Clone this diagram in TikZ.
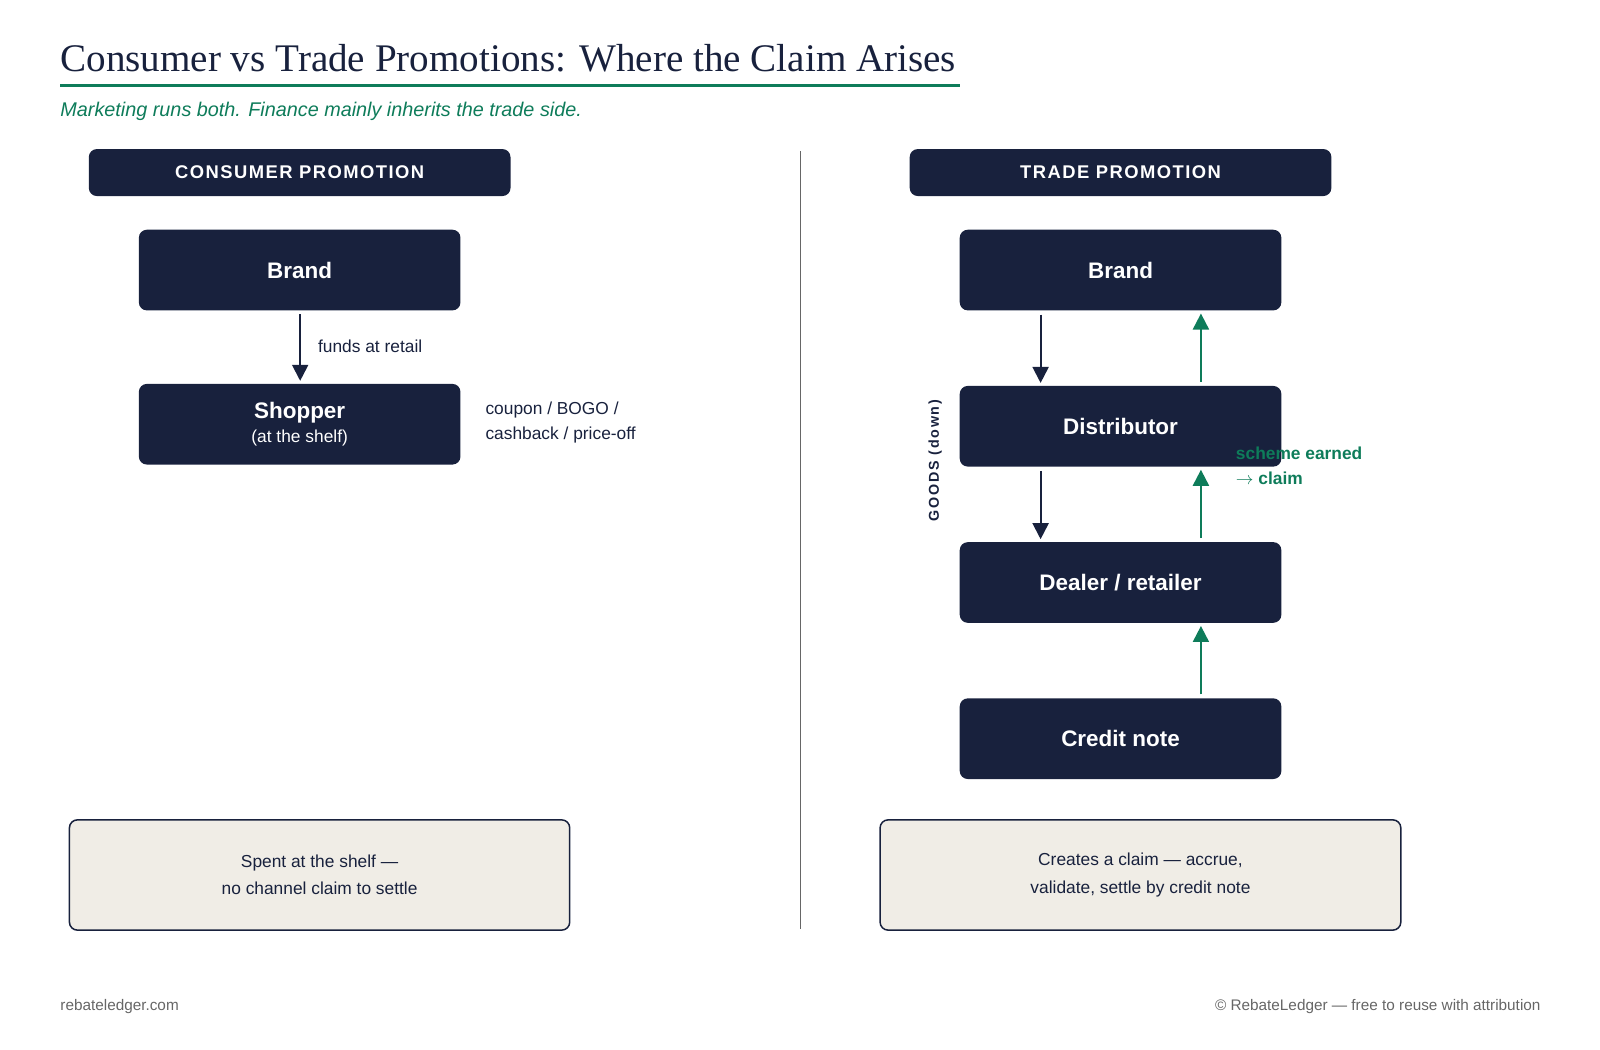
\documentclass[tikz,border=0pt]{standalone}
\usepackage{fontspec}
\setmainfont{Liberation Sans}
\newfontfamily\titlefont{Liberation Serif}
\usetikzlibrary{arrows.meta}
\definecolor{navy}{HTML}{18213D}
\definecolor{grn}{HTML}{0E7C5A}
\definecolor{beige}{HTML}{F0EDE6}
\definecolor{gry}{HTML}{666666}
\begin{document}
\begin{tikzpicture}[x=1pt,y=-1pt,scale=1.021,transform shape,
  box/.style={draw=none,fill=navy,rounded corners=8,text=white,font=\fontsize{22}{26}\selectfont\bfseries,align=center},
  hdr/.style={fill=navy,rounded corners=8,text=white,font=\fontsize{18}{22}\selectfont\bfseries},
  note/.style={draw=navy,line width=1.5,fill=beige,rounded corners=8,text=navy,font=\fontsize{17}{27}\selectfont,align=center},
  small/.style={text=navy,font=\fontsize{17}{25}\selectfont,align=left},
  dn/.style={navy,line width=2,-{Triangle[length=16,width=16]}},
  up/.style={grn,line width=2,-{Triangle[length=16,width=16]}}]
\useasboundingbox (0,0) rectangle (1567.1,1028.4);
\node[anchor=base west,text=navy,font=\titlefont\fontsize{38.3}{42}\selectfont,inner sep=0] (title) at (59,70) {Consumer vs Trade Promotions: Where the Claim Arises};
\draw[grn,line width=3] (59,84) -- (940,84);
\node[anchor=base west,text=grn,font=\fontsize{19.4}{22}\selectfont\itshape,inner sep=0] (sub) at (59,114) {Marketing runs both. Finance mainly inherits the trade side.};
\node[hdr,minimum width=413,minimum height=46] (hl) at (293.5,169) {\addfontfeature{LetterSpace=8}CONSUMER PROMOTION};
\node[hdr,minimum width=413,minimum height=46] (hr) at (1097.5,169) {\addfontfeature{LetterSpace=8}TRADE PROMOTION};
\draw[gry,line width=1] (784,148) -- (784,910);
% left
\node[box,minimum width=315,minimum height=79] (lb) at (293.5,264.5) {Brand};
\node[box,minimum width=315,minimum height=79] (ls) at (293.5,415.5) {Shopper\\[-2pt]{\fontsize{17}{20}\selectfont\mdseries (at the shelf)}};
\draw[dn] (294,308) -- (294,373);
\node[small,anchor=west] (fr) at (308,339) {funds at retail};
\node[small,anchor=west] (cp) at (472,414) {coupon / BOGO /\\cashback / price-off};
% right
\node[box,minimum width=315,minimum height=79] (rb) at (1097.5,264.5) {Brand};
\node[box,minimum width=315,minimum height=79] (rd) at (1097.5,417.5) {Distributor};
\node[box,minimum width=315,minimum height=79] (rr) at (1097.5,570.5) {Dealer / retailer};
\node[box,minimum width=315,minimum height=79] (rc) at (1097.5,723.5) {Credit note};
\coordinate (a1) at (1019,308); \coordinate (a2) at (1019,375);
\coordinate (a3) at (1019,461); \coordinate (a4) at (1019,528);
\draw[dn] (a1) -- (a2); \draw[dn] (a3) -- (a4);
\coordinate (g1) at (1176,374); \coordinate (g2) at (1176,307);
\coordinate (g3) at (1176,527); \coordinate (g4) at (1176,460);
\coordinate (g5) at (1176,680); \coordinate (g6) at (1176,613);
\draw[up] (g1) -- (g2); \draw[up] (g3) -- (g4); \draw[up] (g5) -- (g6);
\node[rotate=90,text=navy,font=\fontsize{14}{16}\selectfont\bfseries\addfontfeature{LetterSpace=12}] (goods) at (916,451) {GOODS (down)};
\node[anchor=west,text=grn,font=\fontsize{17}{24}\selectfont\bfseries,align=left] (se) at (1207,456) {scheme earned\\$\rightarrow$ claim};
% notes
\node[note,minimum width=490,minimum height=108] (nl) at (313,857) {Spent at the shelf —\\no channel claim to settle};
\node[note,minimum width=510,minimum height=108] (nr) at (1117,857) {Creates a claim — accrue,\\validate, settle by credit note};
\node[anchor=base west,text=gry,font=\fontsize{15}{18}\selectfont,inner sep=0] (f1) at (59,990) {rebateledger.com};
\node[anchor=base east,text=gry,font=\fontsize{15}{18}\selectfont,inner sep=0] (f2) at (1509,990) {© RebateLedger — free to reuse with attribution};
\end{tikzpicture}
\end{document}
